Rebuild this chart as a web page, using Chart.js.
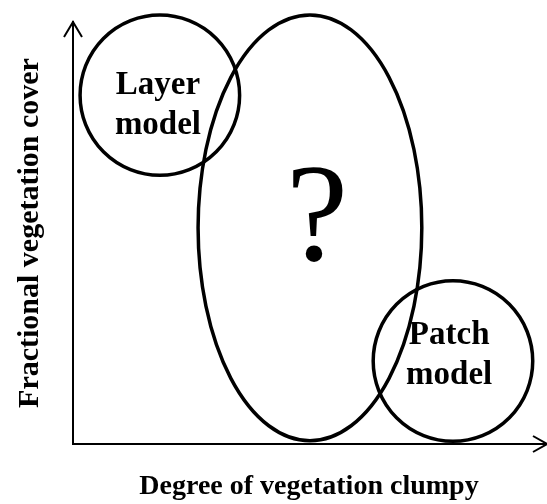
<!DOCTYPE html>
<html>
<head>
<meta charset="utf-8">
<script src="https://cdn.jsdelivr.net/npm/chart.js@4/dist/chart.umd.min.js"></script>
<style>
  html, body { margin: 0; padding: 0; background: #fff; }
  #wrap { width: 547px; height: 504px; position: relative; }
</style>
</head>
<body>
<div id="wrap"><canvas id="chart"></canvas></div>
<script>
// ─── Data (axis units: x 0..10, y 0..9) ─────────
const xTitle = "Degree of vegetation clumpy";
const yTitle = "Fractional vegetation cover";

// regions: Layer model circle, "?" ellipse, Patch model circle
const regionNames = ["Layer model", "?", "Patch model"];
const centerX = [1.84, 5.02, 8.05];
const centerY = [7.44, 4.61, 1.77];
const radiusX = [1.69, 2.37, 1.69];
const radiusY = [1.71, 4.54, 1.71];

// text inside the regions
const labelLines = [["Layer", "model"], ["?"], ["Patch", "model"]];
const labelX = [1.80, 5.17, 7.97];
const labelY = [7.21, 3.92, 1.89];

const SERIF = '"Liberation Serif", "Times New Roman", serif';

// ─── Plugins ────────────────────────────────────
const regionsPlugin = {
	id: "regions",
	afterDatasetsDraw(chart) {
		const { ctx, scales: { x, y } } = chart;
		ctx.save();
		ctx.strokeStyle = "#000";
		ctx.lineWidth = 3.5;
		regionNames.forEach((name, i) => {
			const cx = x.getPixelForValue(centerX[i]);
			const cy = y.getPixelForValue(centerY[i]);
			const rx = Math.abs(x.getPixelForValue(centerX[i] + radiusX[i]) - cx);
			const ry = Math.abs(y.getPixelForValue(centerY[i] + radiusY[i]) - cy);
			ctx.beginPath();
			ctx.ellipse(cx, cy, rx, ry, 0, 0, Math.PI * 2);
			ctx.stroke();
		});

		ctx.fillStyle = "#000";
		ctx.textAlign = "center";
		labelLines.forEach((lines, i) => {
			const lx = x.getPixelForValue(labelX[i]);
			const ly = y.getPixelForValue(labelY[i]);
			if (lines[0] === "?") {
				ctx.font = `normal 140px ${SERIF}`;
				ctx.textBaseline = "alphabetic";
				ctx.fillText(lines[0], lx, ly);
				return;
			}
			ctx.font = `bold 33px ${SERIF}`;
			ctx.textBaseline = "middle";
			const lh = 40;
			lines.forEach((t, j) => {
				ctx.fillText(t, lx, ly + (j - (lines.length - 1) / 2) * lh);
			});
		});
		ctx.restore();
	},
};

const arrowsPlugin = {
	id: "arrows",
	afterDraw(chart) {
		const { ctx, chartArea: a } = chart;
		ctx.save();
		ctx.strokeStyle = "#000";
		ctx.lineWidth = 2;
		// y arrow
		ctx.beginPath();
		ctx.moveTo(a.left - 9, a.top + 15);
		ctx.lineTo(a.left, a.top);
		ctx.lineTo(a.left + 9, a.top + 15);
		ctx.stroke();
		// x arrow
		ctx.beginPath();
		ctx.moveTo(a.right - 12, a.bottom - 8);
		ctx.lineTo(a.right + 2, a.bottom);
		ctx.lineTo(a.right - 12, a.bottom + 8);
		ctx.stroke();
		ctx.restore();
	},
};

// ─── Chart ──────────────────────────────────────
new Chart(document.getElementById("chart"), {
	type: "scatter",
	data: {
		datasets: [
			{
				data: centerX.map((v, i) => ({ x: v, y: centerY[i] })),
				pointRadius: 0,
				showLine: false,
			},
		],
	},
	options: {
		responsive: true,
		maintainAspectRatio: false,
		animation: false,
		layout: { padding: { left: 0, top: 22, right: 2, bottom: 0 } },
		plugins: { legend: { display: false }, tooltip: { enabled: false } },
		scales: {
			x: {
				type: "linear",
				min: 0,
				max: 10,
				ticks: { display: false },
				grid: { display: false, drawTicks: false },
				border: { display: true, color: "#000", width: 2 },
				title: {
					display: true,
					text: xTitle,
					color: "#000",
					font: { family: SERIF, size: 28, weight: "bold", lineHeight: 1.2 },
					padding: { top: 26.4, bottom: 0 },
				},
			},
			y: {
				type: "linear",
				min: 0,
				max: 9,
				ticks: { display: false },
				grid: { display: false, drawTicks: false },
				border: { display: true, color: "#000", width: 2 },
				title: {
					display: true,
					text: yTitle,
					color: "#000",
					font: { family: SERIF, size: 30, weight: "bold", lineHeight: 1.2 },
					padding: { top: 12, bottom: 25 },
				},
			},
		},
	},
	plugins: [regionsPlugin, arrowsPlugin],
});
</script>
</body>
</html>
